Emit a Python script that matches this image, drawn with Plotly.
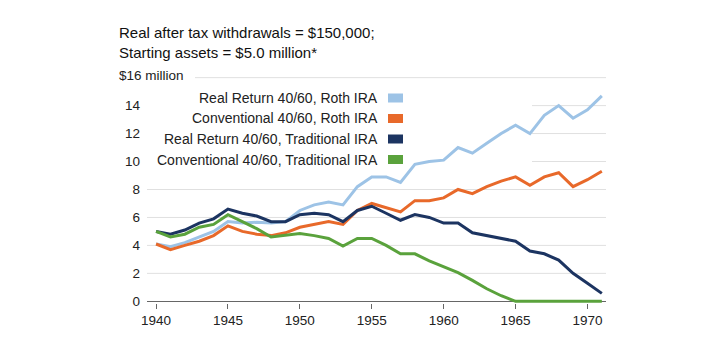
import plotly.graph_objects as go

years = list(range(1940, 1972))

real_roth = [4.1, 3.9, 4.2, 4.6, 5.0, 5.7, 5.6, 5.65, 5.6, 5.7, 6.5, 6.9, 7.1, 6.9, 8.2, 8.9,
             8.9, 8.5, 9.8, 10.0, 10.1, 11.0, 10.6, 11.3, 12.0, 12.6, 12.0, 13.3, 14.0, 13.1, 13.7, 14.7]
conv_roth = [4.1, 3.7, 4.0, 4.3, 4.7, 5.4, 5.0, 4.8, 4.7, 4.9, 5.3, 5.5, 5.7, 5.5, 6.5, 7.0,
             6.7, 6.4, 7.2, 7.2, 7.4, 8.0, 7.7, 8.2, 8.6, 8.9, 8.3, 8.9, 9.2, 8.2, 8.7, 9.3]
real_trad = [5.0, 4.8, 5.1, 5.6, 5.9, 6.6, 6.3, 6.1, 5.7, 5.7, 6.2, 6.3, 6.2, 5.7, 6.5, 6.8,
             6.3, 5.8, 6.2, 6.0, 5.6, 5.6, 4.9, 4.7, 4.5, 4.3, 3.6, 3.4, 2.95, 2.0, 1.3, 0.57]
conv_trad = [5.0, 4.6, 4.8, 5.3, 5.5, 6.2, 5.7, 5.2, 4.6, 4.7, 4.85, 4.7, 4.5, 3.95, 4.5, 4.5,
             4.0, 3.4, 3.4, 2.9, 2.5, 2.05, 1.5, 0.9, 0.4, 0.0, 0.0, 0.0, 0.0, 0.0, 0.0, 0.0]

series_names = ["Real Return 40/60, Roth IRA", "Conventional 40/60, Roth IRA",
                "Real Return 40/60, Traditional IRA", "Conventional 40/60, Traditional IRA"]
series_values = [real_roth, conv_roth, real_trad, conv_trad]
colors = ["#9dc3e6", "#e8692a", "#1c3461", "#5aa23c"]

y_tick_vals = [0, 2, 4, 6, 8, 10, 12, 14]
grid_vals = [2, 4, 6, 8, 10, 12, 14, 16]
x_tick_vals = [1940, 1945, 1950, 1955, 1960, 1965, 1970]

title_lines = ["Real after tax withdrawals = $150,000;", "Starting assets = $5.0 million*"]
y_unit_label = "$16 million"

W, H = 725, 350
L, R, T, B = 147, 119, 74, 47
PW, PH = W - L - R, H - T - B


def px(x):
    return (x - L) / PW


def py(y):
    return (H - B - y) / PH


FONT = "Liberation Sans, Arial, sans-serif"
GRID = "#e0e0e0"

fig = go.Figure()
for name, vals, col in zip(series_names, series_values, colors):
    fig.add_trace(go.Scatter(x=years, y=vals, mode="lines", name=name,
                             line=dict(color=col, width=3), showlegend=False))

shapes = []
annotations = []

# gridlines (partly hidden behind the legend block and the unit label)
for g in grid_vals:
    if g == 16:
        start = px(195)
    elif g >= 10:
        start = px(532)
    else:
        start = 0
    shapes.append(dict(type="line", xref="paper", yref="y", layer="below",
                       x0=start, x1=1, y0=g, y1=g,
                       line=dict(color=GRID, width=1)))

# manual legend: text right-aligned, swatch on the right
row_y = [98, 118.5, 139, 159.5]
for name, col, ry in zip(series_names, colors, row_y):
    annotations.append(dict(xref="paper", yref="paper", x=px(380), y=py(ry),
                            xanchor="right", yanchor="middle", showarrow=False,
                            text=name, font=dict(family=FONT, size=14, color="#222222")))
    shapes.append(dict(type="rect", xref="paper", yref="paper",
                       x0=px(388), x1=px(403), y0=py(ry + 4.5), y1=py(ry - 4.5),
                       fillcolor=col, line=dict(width=0)))

# title lines
annotations.append(dict(xref="paper", yref="paper", x=px(117), y=py(33),
                        xanchor="left", yanchor="middle", showarrow=False,
                        text=title_lines[0], font=dict(family=FONT, size=15, color="#111111")))
annotations.append(dict(xref="paper", yref="paper", x=px(117), y=py(52),
                        xanchor="left", yanchor="middle", showarrow=False,
                        text=title_lines[1], font=dict(family=FONT, size=15, color="#111111")))
# y unit label at top
annotations.append(dict(xref="paper", yref="paper", x=px(117), y=py(75.5),
                        xanchor="left", yanchor="middle", showarrow=False,
                        text=y_unit_label,
                        font=dict(family=FONT, size=13.5, color="#222222")))

fig.update_layout(
    width=W, height=H,
    margin=dict(l=L, r=R, t=T, b=B, pad=0),
    paper_bgcolor="white", plot_bgcolor="rgba(0,0,0,0)",
    font=dict(family=FONT, size=13.5, color="#222222"),
    shapes=shapes, annotations=annotations,
    xaxis=dict(range=[1939.37, 1971.29], tickvals=x_tick_vals, showgrid=False,
               showline=False, ticks="outside", ticklen=5, tickcolor="#666666",
               tickwidth=1, zeroline=False, tickfont=dict(size=13.5, color="#222222")),
    yaxis=dict(range=[-0.12, 16.26], tickvals=y_tick_vals, showgrid=False,
               zeroline=True, zerolinecolor="#666666", zerolinewidth=1,
               showline=False, ticks="", ticklabelstandoff=6,
               tickfont=dict(size=13.5, color="#222222")),
)

fig.write_html("out.html")
